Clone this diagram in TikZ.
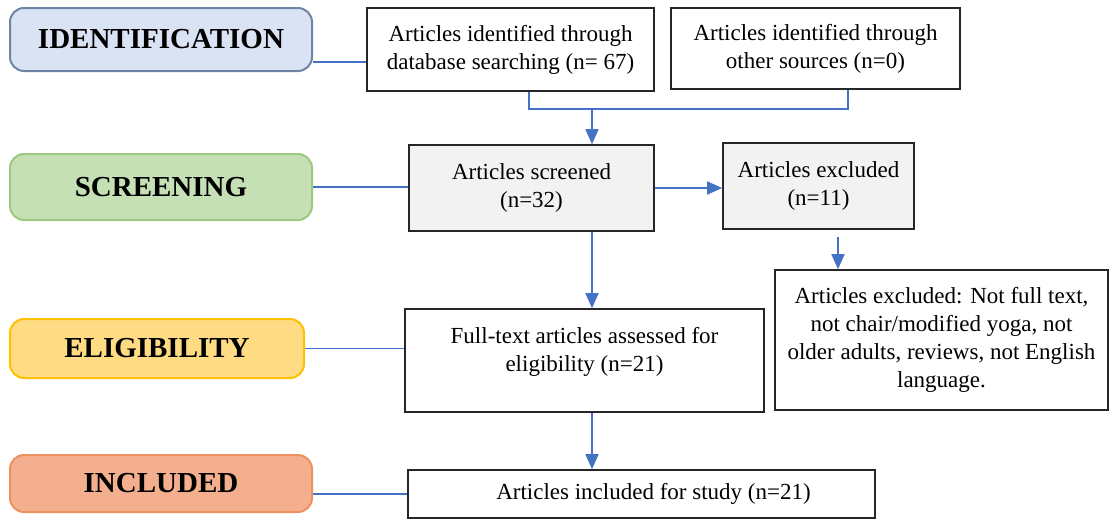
\documentclass[tikz,border=0pt]{standalone}
\usepackage{fontspec}
\setmainfont{Liberation Serif}
\usetikzlibrary{arrows.meta}
\definecolor{linkblue}{HTML}{4472C4}
\definecolor{idfill}{HTML}{DAE3F3}
\definecolor{iddraw}{HTML}{6F83A4}
\definecolor{scfill}{HTML}{C5E0B4}
\definecolor{scdraw}{HTML}{9CC982}
\definecolor{elfill}{HTML}{FFDC84}
\definecolor{eldraw}{HTML}{FFC000}
\definecolor{infill}{HTML}{F4B08E}
\definecolor{indraw}{HTML}{EE905F}
\definecolor{boxgray}{HTML}{F2F2F2}
\begin{document}
\begin{tikzpicture}[x=0.5pt,y=-0.5pt,
    stage/.style={draw,rounded corners=7pt,line width=1pt,minimum width=151pt,
      font=\fontsize{14.5}{17}\selectfont\bfseries},
    box/.style={draw=black!85,line width=0.8pt,align=center,
      font=\fontsize{11.5}{14}\selectfont},
    link/.style={draw=linkblue,line width=0.8pt},
    arr/.style={link,-{Triangle[length=7.5pt,width=6.5pt]}}]

   \useasboundingbox (0,0) rectangle (1110,520);

   \node[stage,fill=idfill,draw=iddraw,minimum height=31.5pt] at (161,39.5) (ID) {IDENTIFICATION};
   \node[stage,fill=scfill,draw=scdraw,minimum height=33pt] at (161,187) (SC) {SCREENING};
   \node[stage,fill=elfill,draw=eldraw,minimum width=147pt,minimum height=29.5pt] at (157,348.5) (EL) {ELIGIBILITY};
   \node[stage,fill=infill,draw=indraw,minimum height=28.5pt] at (161,483.5) (IN) {INCLUDED};

   \node[box,minimum width=143.5pt,minimum height=41.5pt] at (510.5,49.5) (A)
      {Articles identified through\\database searching (n= 67)};
   \node[box,minimum width=144.5pt,minimum height=40.5pt] at (815.5,48.5) (B)
      {Articles identified through\\other sources (n=0)};
   \node[box,fill=boxgray,minimum width=122.5pt,minimum height=43pt] at (531.5,188) (C)
      {Articles screened\\(n=32)};
   \node[box,fill=boxgray,minimum width=95.5pt,minimum height=43pt] at (818.5,186) (D)
      {Articles excluded\\(n=11)};
   \node[box,inner xsep=2pt,minimum width=166.5pt,minimum height=70pt] at (941.5,340) (E)
      {Articles excluded: Not full text,\\not chair/modified yoga, not\\older adults, reviews, not English\\language.};
   \node[box,text depth=11.5pt,minimum width=179.5pt,minimum height=51.5pt] at (584.5,360.5) (F)
      {Full-text articles assessed for\\eligibility (n=21)};
   \node[box,minimum width=233.5pt,minimum height=24pt] at (641.5,494) (G)
      {\hspace*{12pt}Articles included for study (n=21)};

   \coordinate (ja) at (529,109);
   \coordinate (jb) at (848,109);
   \coordinate (jm) at (592,109);
   \coordinate (jd) at (838,237);

   \draw[link] ([yshift=-11.25pt]ID.east) -- ([yshift=-11.25pt]ID.east -| A.west);
   \draw[link] (SC.east) -- (SC.east -| C.west);
   \draw[link] (EL.east) -- (EL.east -| F.west);
   \draw[link] (IN.east |- G.west) -- (G.west);

   \draw[link] (A.south -| ja) -- (ja) -- (jb) -- (B.south -| jb);
   \draw[arr] (jm) -- (C.north -| jm);
   \draw[arr] (C.east) -- (C.east -| D.west);
   \draw[arr] (jd) -- (E.north -| jd);
   \draw[arr] (C.south -| jm) -- (F.north -| jm);
   \draw[arr] (F.south -| jm) -- (G.north -| jm);

\end{tikzpicture}
\end{document}
